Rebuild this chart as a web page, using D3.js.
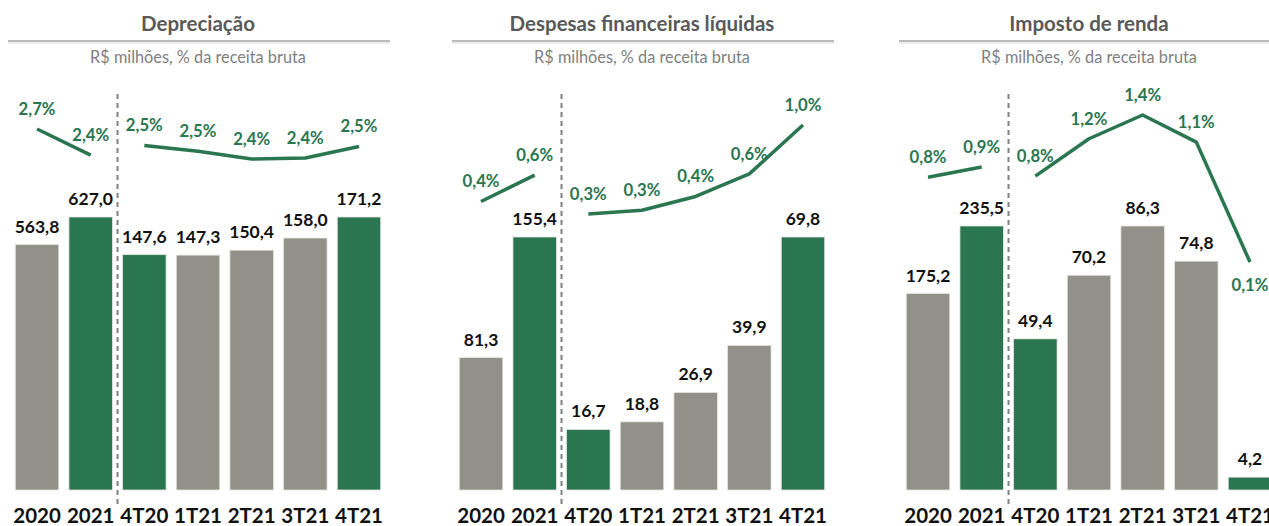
<!DOCTYPE html>
<html>
<head>
<meta charset="utf-8">
<script src="https://cdn.jsdelivr.net/npm/d3@7"></script>
<style>
  html, body { margin: 0; padding: 0; background: #fff; }
  svg { display: block; font-family: Lato, "Open Sans", sans-serif; }
</style>
</head>
<body>
<svg id="chart" width="1269" height="526"></svg>
<script>
// Categorias (2 anos + 5 trimestres)
const categorias = ['2020', '2021', '4T20', '1T21', '2T21', '3T21', '4T21'];
const anuais = ['2020', '2021'];
const destaque = ['2021', '4T20', '4T21'];

const titulos = ['Depreciação', 'Despesas financeiras líquidas', 'Imposto de renda'];
const subtitulo = 'R$ milhões, % da receita bruta';

// R$ milhões
const depreciacao = [563.8, 627.0, 147.6, 147.3, 150.4, 158.0, 171.2];
const despFinanceiras = [81.3, 155.4, 16.7, 18.8, 26.9, 39.9, 69.8];
const impostoRenda = [175.2, 235.5, 49.4, 70.2, 86.3, 74.8, 4.2];

// % da receita bruta
const depreciacaoPct = [2.70, 2.43, 2.53, 2.47, 2.39, 2.40, 2.52];
const despFinanceirasPct = [0.37, 0.58, 0.27, 0.30, 0.41, 0.59, 0.98];
const impostoRendaPct = [0.83, 0.92, 0.84, 1.17, 1.38, 1.14, 0.08];

// rótulo do % abaixo do ponto (só o 4T21 do IR)
const impostoRendaPctAbaixo = [false, false, false, false, false, false, true];

const verde = '#2a7650';
const cinza = '#91918a';

const paineis = [
  { titulo: titulos[0], valores: depreciacao, pct: depreciacaoPct, abaixo: null, cx: 198, topoBarra: 217, linhaTopo: 129, linhaBase: 159 },
  { titulo: titulos[1], valores: despFinanceiras, pct: despFinanceirasPct, abaixo: null, cx: 642, topoBarra: 237, linhaTopo: 125, linhaBase: 214 },
  { titulo: titulos[2], valores: impostoRenda, pct: impostoRendaPct, abaixo: impostoRendaPctAbaixo, cx: 1089, topoBarra: 226, linhaTopo: 115, linhaBase: 262 }
];

const baseY = 490;
const fmt = v => d3.format('.1f')(v).replace('.', ',');

const svg = d3.select('#chart');

paineis.forEach(p => {
  const g = svg.append('g');

  // Título + linha
  g.append('text')
    .attr('x', p.cx).attr('y', 31)
    .attr('text-anchor', 'middle')
    .style('font-size', '20.5px').style('font-weight', 700)
    .style('fill', '#595959')
    .text(p.titulo);

  g.append('line')
    .attr('x1', p.cx - 190).attr('x2', p.cx + 192)
    .attr('y1', 43).attr('y2', 43)
    .style('stroke', '#ececec').style('stroke-width', 2);
  g.append('line')
    .attr('x1', p.cx - 190).attr('x2', p.cx + 192)
    .attr('y1', 41).attr('y2', 41)
    .style('stroke', '#a3a3a3').style('stroke-width', 1.6);

  g.append('text')
    .attr('x', p.cx).attr('y', 63)
    .attr('text-anchor', 'middle')
    .style('font-size', '16.3px')
    .style('fill', '#7f7f7f')
    .text(subtitulo);

  const x = d3.scaleBand()
    .domain(categorias)
    .range([p.cx - 187, p.cx + 187])
    .paddingInner(0.19)
    .paddingOuter(0.08);

  const dados = categorias.map((c, i) => ({
    cat: c, valor: p.valores[i], pct: p.pct[i],
    anual: anuais.includes(c),
    abaixo: p.abaixo ? p.abaixo[i] : false
  }));

  // Escalas de barras: cada grupo (anual / trimestral) com o seu máximo
  const maxAnual = d3.max(dados.filter(d => d.anual), d => d.valor);
  const maxTri = d3.max(dados.filter(d => !d.anual), d => d.valor);
  const yAnual = d3.scaleLinear().domain([0, maxAnual]).range([baseY, p.topoBarra]);
  const yTri = d3.scaleLinear().domain([0, maxTri]).range([baseY, p.topoBarra]);
  const yBar = d => (d.anual ? yAnual : yTri)(d.valor);

  // Escala da linha de %
  const yPct = d3.scaleLinear().domain([d3.min(p.pct), d3.max(p.pct)]).range([p.linhaBase, p.linhaTopo]);

  g.selectAll('rect.barra')
    .data(dados)
    .enter()
    .append('rect')
    .attr('class', 'barra')
    .attr('x', d => x(d.cat))
    .attr('width', x.bandwidth())
    .attr('y', d => yBar(d))
    .attr('height', d => baseY - yBar(d))
    .style('fill', d => destaque.includes(d.cat) ? verde : cinza)
    .style('stroke', '#e4e4e0').style('stroke-width', 0.8);

  g.selectAll('text.valor')
    .data(dados)
    .enter()
    .append('text')
    .attr('class', 'valor')
    .attr('x', d => x(d.cat) + x.bandwidth() / 2)
    .attr('y', d => yBar(d) - 12)
    .attr('text-anchor', 'middle')
    .style('font-size', '17.5px').style('font-weight', 700)
    .style('fill', '#111')
    .text(d => fmt(d.valor));

  // Eixo x (só rótulos)
  const eixo = g.append('g')
    .attr('transform', `translate(0,${baseY})`)
    .call(d3.axisBottom(x).tickSize(0).tickPadding(18));
  eixo.select('.domain').remove();
  eixo.selectAll('text')
    .attr('dy', '0.71em')
    .style('font-family', 'Lato, "Open Sans", sans-serif')
    .style('font-size', '20.5px').style('font-weight', 700)
    .style('fill', '#111');

  // Separador tracejado
  const sepX = (x('2021') + x.bandwidth() + x('4T20')) / 2;
  g.append('line')
    .attr('x1', sepX).attr('x2', sepX)
    .attr('y1', 94).attr('y2', 506)
    .style('stroke', '#808080').style('stroke-width', 2)
    .style('stroke-dasharray', '5,4');

  // Linhas de %
  const linha = d3.line()
    .x(d => x(d.cat) + x.bandwidth() / 2)
    .y(d => yPct(d.pct));

  [dados.filter(d => d.anual), dados.filter(d => !d.anual)].forEach(seg => {
    g.append('path')
      .datum(seg)
      .attr('d', linha)
      .style('fill', 'none')
      .style('stroke', verde)
      .style('stroke-width', 3.5)
      .style('stroke-linejoin', 'round');
  });

  g.selectAll('text.pct')
    .data(dados)
    .enter()
    .append('text')
    .attr('class', 'pct')
    .attr('x', d => x(d.cat) + x.bandwidth() / 2)
    .attr('y', d => d.abaixo ? yPct(d.pct) + 29 : yPct(d.pct) - 14)
    .attr('text-anchor', 'middle')
    .style('font-size', '16.7px').style('font-weight', 700)
    .style('fill', verde)
    .text(d => fmt(d.pct) + '%');
});
</script>
</body>
</html>
